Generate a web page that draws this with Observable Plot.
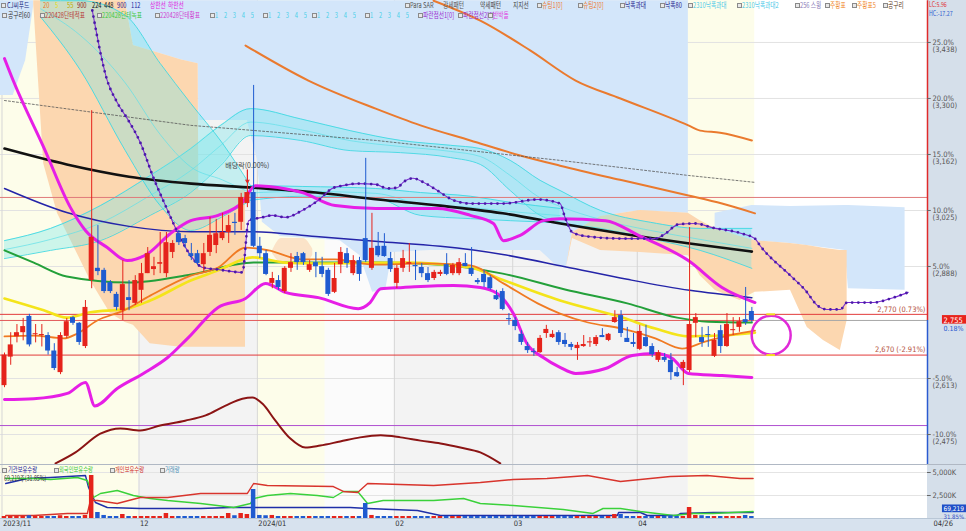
<!DOCTYPE html>
<html><head><meta charset="utf-8">
<script src="https://cdn.jsdelivr.net/npm/d3@7"></script>
<script src="https://cdn.jsdelivr.net/npm/@observablehq/plot@0.6"></script>
<style>
html,body{margin:0;padding:0;background:#fff;}
#wrap{position:relative;width:966px;height:531px;overflow:hidden;font-family:"Noto Sans CJK KR","Noto Sans",sans-serif;}
.abs{position:absolute;}
#axisMain{left:927px;top:0;width:39px;height:464px;background:#d5dfea;}
#axisSub{left:927px;top:465px;width:39px;height:53px;background:#d5dfea;}
#strip{left:0;top:518px;width:966px;height:13px;background:#d7e2ee;border-top:1px solid #b9c7d6;box-sizing:border-box;}
#sep{left:0;top:464px;width:966px;height:1px;background:#b0b8c4;}
#main{left:0;top:0;}
#sub{left:0;top:465px;}
.lg{position:absolute;font-size:7.6px;line-height:8px;white-space:pre;transform:scaleX(0.75);transform-origin:0 0;}
.lg.sp{word-spacing:6px;}
.lg.sm{font-size:7px;line-height:7px;}
.bx{position:absolute;width:3px;height:3px;border:1px solid #8a8a8a;background:#e8e8e8;}
</style></head><body>
<div id="wrap">
 <div id="axisMain" class="abs"></div>
 <div id="axisSub" class="abs"></div>
 <div id="strip" class="abs"></div>
 <div id="main" class="abs"></div>
 <div id="sep" class="abs"></div>
 <div id="sub" class="abs"></div>
 <div id="legend"></div>
</div>
<script>
// ---------------- DATA ----------------
const basePrice = 2750;
const open = [2595,2665,2715,2725,2765,2720,2718,2718,2680,2627,
2716,2762,2748,2691,2853,2883,2878,2848,2819,2779,
2811,2797,2829,2870,2880,2893,2870,2922,2968,2956,
2919,2919,2892,2922,2939,2956,2971,2996,2996,3042,
3069,2937,2919,2846,2853,2826,2883,2912,2919,2878,
2897,2887,2878,2824,2892,2919,2870,2902,2956,2883,
2937,2937,2907,2846,2883,2893,2890,2885,2870,2858,
2868,2892,2870,2870,2895,2883,2853,2868,2860,2816,
2826,2757,2755,2721,2691,2676,2676,2723,2713,2725,
2706,2696,2686,2691,2700,2696,2718,2706,2750,2767,
2711,2701,2684,2713,2691,2657,2664,2657,2627,2637,
2632,2748,2713,2718,2667,2730,2691,2730,2738,2757,2777];
const high = [2675,2725,2745,2760,2770,2745,2745,2725,2698,2725,
2760,2765,2750,2804,3270,2988,2883,2853,2824,2902,
2853,2865,2895,2934,2910,2971,2971,2951,2976,2964,
2944,2927,2944,3008,3003,3018,3013,3018,3067,3091,
3332,2959,2927,2873,2865,2887,2919,2922,2922,2902,
2922,2910,2883,2895,2934,2932,2914,2910,3153,3018,
2971,2968,2922,2890,2927,2944,2927,2895,2885,2878,
2878,2919,2895,2907,2919,2934,2858,2878,2865,2829,
2833,2772,2762,2730,2701,2686,2718,2743,2730,2730,
2723,2701,2701,2718,2713,2718,2735,2723,2779,2779,
2738,2723,2743,2743,2698,2681,2674,2674,2640,2657,
2983,2772,2738,2740,2723,2743,2772,2762,2762,2836,2787];
const low = [2590,2645,2700,2705,2690,2700,2690,2670,2632,2622,
2711,2743,2694,2686,2833,2865,2821,2821,2779,2755,
2779,2792,2797,2870,2865,2870,2860,2907,2939,2932,
2902,2890,2873,2912,2919,2951,2944,2964,2976,3032,
2934,2907,2865,2833,2829,2821,2873,2878,2890,2873,
2860,2860,2814,2821,2870,2883,2865,2851,2897,2878,
2910,2910,2873,2833,2873,2873,2853,2860,2848,2853,
2863,2865,2865,2865,2887,2863,2843,2836,2829,2804,
2779,2743,2730,2694,2674,2667,2674,2711,2711,2694,
2689,2681,2657,2689,2689,2691,2713,2703,2748,2713,
2701,2689,2681,2689,2664,2652,2652,2608,2615,2595,
2627,2713,2689,2689,2664,2674,2689,2718,2726,2743,2750];
const close = [2670,2695,2725,2740,2695,2722,2720,2680,2637,2718,
2752,2748,2701,2787,2959,2875,2826,2826,2787,2843,
2804,2853,2870,2919,2887,2897,2946,2944,2946,2944,
2912,2895,2919,2964,2968,2971,2988,2993,3057,3069,
2937,2919,2868,2858,2836,2883,2897,2897,2897,2892,
2887,2868,2819,2858,2922,2895,2902,2868,2902,2932,
2914,2912,2880,2883,2907,2897,2887,2870,2853,2873,
2873,2868,2890,2897,2887,2868,2848,2848,2833,2806,
2782,2755,2740,2701,2681,2674,2711,2733,2721,2701,
2696,2689,2694,2696,2702,2713,2713,2721,2762,2723,
2701,2696,2728,2691,2671,2676,2657,2627,2617,2652,
2745,2762,2701,2716,2706,2691,2745,2731,2752,2750,2755];
const volume = [217,217,217,217,300,217,217,217,217,300,
217,217,217,330,4674,652,330,217,217,435,
217,217,217,217,217,217,543,217,217,217,
217,217,217,217,217,217,543,300,543,435,
3152,330,300,330,217,217,217,217,217,217,
217,217,217,217,217,217,217,217,1631,330,
217,217,217,217,217,217,217,217,217,217,
217,217,217,217,217,217,217,217,217,217,
217,217,217,217,217,217,217,217,217,217,
217,217,217,217,217,217,217,217,435,435,
217,217,217,217,217,217,217,300,217,217,
1196,330,300,217,217,217,217,217,217,330,217];

// moving averages / indicator lines: [bar index, price]
const maLong = [[0,3177],[10,3138],[20,3108],[30,3091],[40,3081],[50,3069],[60,3052],[70,3037],[80,3018],[90,2991],[100,2966],[110,2944],[120,2924]];
const maNavy = [[0,3079],[10,3020],[20,2986],[30,2973],[40,2973],[50,2961],[60,2949],[70,2937],[80,2917],[90,2887],[100,2856],[110,2829],[120,2811]];
const maGreen = [[0,2927],[4.7,2897],[10,2863],[20,2848],[30,2868],[40,2897],[50,2897],[60,2897],[70,2892],[80,2870],[90,2831],[100,2797],[108,2762],[113,2752],[120,2750]];
const maYellow = [[0,2809],[6.3,2780],[10,2762],[13.8,2775],[19.7,2784],[23.4,2804],[29.9,2853],[34.3,2878],[39.8,2910],[45.1,2897],[50.4,2895],[64,2897],[74.8,2885],[79.1,2860],[89.2,2804],[99.2,2762],[104.5,2735],[109.8,2716],[115.2,2718],[120.5,2725]];
const maOrange = [[0,2716],[4.7,2718],[9.5,2711],[11.7,2723],[14.9,2755],[19.1,2779],[23.4,2816],[29.9,2865],[34.3,2885],[38.7,2934],[42.4,2927],[47.8,2905],[53.1,2905],[59.6,2892],[66.8,2895],[74.8,2890],[80.1,2846],[85.6,2797],[89.2,2772],[93.7,2750],[99.2,2735],[104.5,2711],[108.8,2686],[112.5,2703],[116.9,2720],[120.5,2730]];
const bandUpper = [[0,3398],[1.4,3344],[6.3,3180],[10.6,3032],[13,2976],[16.5,2934],[19.7,2902],[23,2919],[26.6,2968],[29.9,3000],[34.3,3013],[38.2,3045],[40.3,3086],[42.4,3084],[47.8,3069],[53.1,3037],[59.6,3030],[69.5,3030],[74.8,3013],[78.5,2993],[80.1,2951],[82.8,2964],[86.5,3000],[89.2,3005],[96.5,3000],[101.8,2964],[109.8,2902],[115.2,2836],[120.5,2799]];
const bandLower = [[0,2561],[4.7,2563],[10.1,2576],[13,2603],[14.5,2545],[18.1,2588],[22.3,2625],[26.2,2664],[29.4,2711],[34.3,2787],[38.7,2809],[41.9,2846],[45.1,2824],[50.4,2811],[56.8,2784],[58.7,2799],[60.4,2833],[64,2836],[72.1,2841],[76.4,2836],[79.1,2821],[81.7,2772],[83.9,2698],[86.5,2664],[89.2,2640],[91.7,2625],[96.5,2637],[100.8,2669],[104.5,2674],[107.2,2662],[109.8,2625],[115.2,2620],[120,2615]];
const sarLine = [[14.1,3516],[16.5,3344],[18.1,3290],[19.9,3246],[21.8,3192],[23.9,3106],[26.2,3025],[27.8,2971],[29.9,2914],[31.8,2885],[34.3,2880],[38.2,2873],[39.2,3000],[41.4,3008],[43,3013],[45.1,3008],[47.8,3025],[50.4,3050],[52.6,3079],[54.3,3086],[56.8,3091],[59.6,3089],[61.5,3079],[63.1,3081],[64,3094],[65.6,3104],[67.3,3094],[69.5,3074],[72.1,3050],[74.8,3042],[80.1,3042],[85.6,3052],[89.2,3042],[90,3008],[91.2,2971],[93.7,2961],[99.2,2956],[104.5,2956],[106.1,2968],[108.2,2991],[110.9,2993],[113.6,2983],[118.5,2968],[120.5,2956],[121.3,2939],[126.2,2865],[128.6,2829],[130.5,2792],[132.1,2782],[134.2,2782],[135.3,2799],[139.5,2799],[142.7,2811],[145.1,2824]];
const trendDashed = [[0,3295],[29.9,3234],[59.6,3197],[89.2,3148],[109.8,3111],[120.5,3094]];
const envTop = [[68.9,3540],[76.4,3491],[84.4,3418],[91.7,3344],[98.9,3300],[109.8,3234],[111.7,3221],[114.9,3216],[120,3197]];
const envMid = [[38.7,3430],[48.8,3344],[59.6,3275],[66.8,3234],[74.8,3197],[82.8,3160],[89.2,3135],[99.2,3099],[109.8,3062],[115.2,3042],[120.5,3018]];
const oscDarkRed = [[8.2,2404],[11.4,2431],[15.4,2477],[18.6,2490],[21.8,2485],[25,2497],[29,2509],[32.3,2522],[35.5,2546],[38.2,2563],[39.8,2566],[41.4,2551],[43.5,2509],[45.9,2465],[48.3,2443],[50.7,2448],[53.9,2458],[57.1,2468],[60.4,2473],[63.6,2468],[66.8,2460],[70,2453],[73.2,2443],[76.4,2431],[79.6,2404]];

// GMMA ribbons: [index, low edge, high edge]
const ribbonA = [[0,2907,2951],[7.4,2927,2981],[15.4,2951,3037],[23.4,3013,3111],[29.9,3069,3177],[34.7,3135,3234],[39.5,3209,3275],[47.5,3197,3250],[55.5,3172,3221],[63.6,3167,3197],[71.6,3155,3185],[76.4,3138,3177],[81.2,3074,3148],[86,3013,3099],[89.2,2996,3074],[95.7,2981,3025],[103.7,2956,2996],[111.7,2927,2981],[120,2883,2981]];
const ribbonB = [[39.5,3050,3086],[47.8,3060,3084],[59.6,3055,3079],[66.8,3013,3069],[74.8,3005,3060],[81.2,3000,3045],[89.2,2995,3030]];
const ribbonC = [[5.8,3500,3540],[12.2,3369,3540],[19.4,3172,3504],[25,3037,3386],[29.9,2976,3288],[35,3010,3190],[39.5,3050,3086]];

// Ichimoku cloud pieces: [index, low edge, high edge]
const cloudBlue0 = [[-0.64,3307,3540],[1.4,3307,3540],[3.4,3393,3540],[4.7,3528,3540]];
const cloudPeach1 = [[4.7,3530,3540],[6.3,3140,3540],[8.5,3018,3540],[11.7,2919,3540],[13.8,2853,3540],[17,2772,3540],[19.4,2750,3540],[20.7,2743,3430],[23.4,2698,3418],[28.3,2689,3395],[31.1,2689,3385],[31.2,2689,3074],[38.7,2689,3074]];
const cloudBlue1 = [[19.4,3540,3540],[20.7,3430,3540],[23.4,3418,3540],[28.3,3395,3540],[31.1,3385,3540],[31.2,3246,3540],[39,3246,3540],[39.8,3197,3540],[40.6,3150,3540],[41.4,2996,3540],[44.3,2961,3540],[53.9,2951,3540],[57.1,2914,3540],[59.1,2824,3540],[61.2,2829,3540],[62.3,2922,3540],[68.4,2927,3540],[86,2927,3540],[88.6,2890,3540],[90.2,2883,3540],[91.2,2971,3540],[95.7,3010,3540],[102.1,3025,3540],[109.8,3018,3540]];
const cloudPeach2 = [[90.2,2883,2883],[91.2,2956,2971],[95.7,2927,3010],[102.1,2922,3025],[109.8,2914,3018],[111.7,2865,3000],[114.1,2829,2981],[118.1,2804,2961],[120.5,2824,2951],[126.2,2829,2944],[128.9,2738,2939],[131.5,2706,2932],[134.2,2681,2927],[135.3,2755,2927]];
const cloudBlue2 = [[114.1,2981,3018],[120,2951,3037],[126.2,2944,3035],[135,2927,3037],[135.5,2833,3037],[144.6,2829,3032]];
const cloudPeach3 = [[43,2920,2925],[44.5,2895,2956],[48,2890,2956],[49.5,2915,2930]];

// horizontal levels
const levelPrices = [3057, 2770, 2670];
const levelLabels = [null, "2,770 (0.73%)", "2,670 (-2.91%)"];
const currentPrice = 2755;
const purpleLevel = 2497;

// right axis
const axisPct = [25, 20, 15, 10, 5, -5, -10];
const axisPriceLabel = ["3,438","3,300","3,162","3,025","2,888","2,613","2,475"];

// months
const monthIdx = [0, 22, 41, 63, 82, 102];
const monthLabel = ["2023/11","12","2024/01","02","03","04"];

// background periods [from idx, to idx, colour]
const periods = [[-0.64,21.6,"#fdfdea"],[21.6,40.6,"#f3f3f3"],[40.6,51.5,"#fdfdea"],[51.5,62.6,"#fbfbfb"],[62.6,109.8,"#f3f3f3"],[109.8,120.5,"#fdfdea"],[120.5,148.2,"#ffffff"]];

// lower panel holdings (K units of the panel axis)
const instHold = [[0.2,3804],[3.7,4348],[7.4,4457],[13,4674],[13.5,3370],[14.6,1739],[16.5,1196],[21.8,1087],[31.5,1087],[36.3,1196],[55.5,1196],[58.3,1087],[66.3,870],[70,326],[98.4,326],[98.6,652],[102.1,652],[103.2,326],[108,326],[108.5,544],[113.8,652],[120.2,652]];
const foreignHold = [[0.2,4348],[4.7,4348],[7.4,4239],[11.7,4457],[13.3,4131],[14.3,2283],[15.4,2718],[18.1,3044],[20.7,2500],[23.4,2174],[26.2,1957],[31.5,1631],[36.8,1196],[39.5,1631],[40,2174],[42.2,2500],[45.9,2718],[50.2,2500],[52.8,2283],[54.4,2935],[56.7,2935],[58.3,1631],[60.8,1957],[68.9,1957],[73.7,2174],[76.4,1631],[81.7,1413],[89.7,978],[94.5,544],[96.1,1087],[98.9,1087],[102.1,761],[107.4,326],[110.6,544],[113.8,544],[120.2,761]];
const indivHold = [[0.2,326],[4.7,326],[10.1,544],[13.3,544],[13.8,1957],[14.9,1957],[18.1,1631],[21.8,2283],[26.2,2283],[31.5,2718],[39,2718],[40,3804],[42.2,3587],[52.8,3478],[54.4,2935],[56.7,2826],[58.3,3804],[63.6,3696],[68.9,3587],[76.4,3913],[81.7,4239],[87.1,4348],[93.6,4674],[98.9,4022],[102.1,4239],[106.9,4565],[112.8,4674],[118.1,4348],[120.2,4348]];
const subTicks = [5000, 2500];
const subTickLabels = ["5,000K", "2,500K"];

// legends [x, text, colour]
const legendRow1 = [[7,"CJ씨푸드","#1c2a80"],[43,"20","#e8781e"],[55,"5","#e4dc20"],[67,"55","#c0ac00"],[77,"900","#8b1a1a"],[92,"224","#111"],[104,"448","#111"],[117,"900","#1c1c9c"],[131,"112","#1c1c9c"],[150,"상한선","#e020e0"],[168,"하한선","#e020e0"],
  [410,"Para SAR","#555"],[443,"강세패턴","#555"],[480,"약세패턴","#444"],[513,"지지선","#444"],[542,"슈팅1[0]","#f07828"],[583,"슈팅2[0]","#f07828"],[625,"낙폭과대","#23238c"],[665,"낙폭80","#23238c"],[693,"2310낙폭과대","#48c8e8"],[742,"2310낙폭과대2","#48c8e8"],[800,"256 스윙","#8a7ab8"],[830,"주황표","#f08a30"],[857,"주황표5","#f08a30"],[888,"공구리","#5a3a1a"]];
const legendRow1Boxes = [1,405,537,578,620,660,688,737,795,825,852,883];
const legendRow2 = [[8,"공구리60","#333"],[45,"220428단테적표","#b83a3a"],[102,"220428단테녹표","#3cc83c"],[160,"220428단테황표","#d040d0"],[215,"1 2 3 4 5","#48d0e8"],[268,"1 2 3 4 5","#48d0e8"],[317,"1 2 3 4 5","#48d0e8"],[370,"1 2 3 4 5","#48d0e8"],[423,"파란점선1[0]","#9a2ad0"],[463,"파란점선2[0]","#9a2ad0"],[493,"반박돌","#e040e0"]];
const legendRow2Boxes = [2,40,97,155,210,263,312,365,418,458,488];
const legendSub = [[8,"기관보유수량","#23239c"],[59,"외국인보유수량","#3cc83c"],[115,"개인보유수량","#d03030"],[165,"거래량","#4a90b8"]];
const legendSubBoxes = [2,54,110,160];

// ---------------- RENDER ----------------
const RED = "#e5231b", BLUE = "#1f5bd0";
const XDOM = [-0.64, 148.2];
const XMAX = XDOM[1];
const FONT = '"Noto Sans CJK KR","Noto Sans",sans-serif';
const NARROW = '"Liberation Sans Narrow","DejaVu Sans Condensed","Liberation Sans",sans-serif';
const candles = open.map((o, i) => ({i, o, h: high[i], l: low[i], c: close[i], v: volume[i], col: close[i] >= o ? RED : BLUE}));
const bands = periods.map(([a, b, f]) => ({a, b, f}));
const monthGrid = monthIdx.map(i => i - 0.4);
const axisData = axisPct.map((p, k) => ({y: basePrice * (1 + p / 100), t: `${p.toFixed(1)}%\n(${axisPriceLabel[k]})`}));
const P = d => d[0], V = d => d[1];
const L = d => d[1], H = d => d[2];

const mainPlot = Plot.plot({
  width: 966, height: 464, marginLeft: 0, marginRight: 39, marginTop: 0, marginBottom: 0,
  x: {domain: XDOM, axis: null},
  y: {domain: [2401.4, 3540.5], axis: null},
  color: {type: "identity"},
  style: {fontFamily: FONT, fontSize: "7px", background: "transparent", overflow: "visible"},
  marks: [
    Plot.rect(bands, {x1: "a", x2: "b", fill: "f"}),
    Plot.ruleY(axisData, {y: "y", stroke: "#e2e2e2"}),
    Plot.ruleX(monthGrid, {stroke: "#d6d6d6"}),
    // clouds
    Plot.areaY(cloudBlue0, {x: P, y1: L, y2: H, fill: "#d3e6fa"}),
    Plot.areaY(cloudBlue1, {x: P, y1: L, y2: H, fill: "#d3e6fa"}),
    Plot.areaY(cloudBlue2, {x: P, y1: L, y2: H, fill: "#d3e6fa"}),
    Plot.areaY(cloudPeach1, {x: P, y1: L, y2: H, fill: "#fcd7b0"}),
    Plot.areaY(cloudPeach2, {x: P, y1: L, y2: H, fill: "#fcd7b0"}),
    Plot.areaY(cloudPeach3, {x: P, y1: L, y2: H, fill: "#fbe3c8", curve: "monotone-x"}),
    // ribbons
    ...[ribbonA, ribbonB, ribbonC].flatMap(r => [
      Plot.areaY(r, {x: P, y1: L, y2: H, fill: "#71e4ea", fillOpacity: 0.35, curve: "monotone-x"}),
      Plot.line(r, {x: P, y: L, stroke: "#3fd8e2", strokeWidth: 0.9, curve: "monotone-x"}),
      Plot.line(r, {x: P, y: H, stroke: "#3fd8e2", strokeWidth: 0.9, curve: "monotone-x"}),
      Plot.line(r, {x: P, y: d => (d[1] + d[2]) / 2, stroke: "#5fdfe8", strokeWidth: 0.7, curve: "monotone-x"})
    ]),
    // horizontal levels
    Plot.ruleY([purpleLevel], {stroke: "#b050d0", strokeWidth: 1}),
    Plot.ruleY(levelPrices, {stroke: (d, k) => k === 0 ? "#e07a7a" : "#e23a3a", strokeWidth: 1}),
    Plot.ruleY([currentPrice], {x1: XDOM[0], x2: 120.5, stroke: "#e25a5a", strokeWidth: 1}),
    Plot.ruleY([currentPrice], {x1: 120.5, x2: XMAX, stroke: "#a8a8a8", strokeWidth: 1}),
    // envelopes and lines
    Plot.line(envTop, {x: P, y: V, stroke: "#ea7a2e", strokeWidth: 2, curve: "monotone-x"}),
    Plot.line(envMid, {x: P, y: V, stroke: "#ea7a2e", strokeWidth: 2, curve: "monotone-x"}),
    Plot.line(trendDashed, {x: P, y: V, stroke: "#555", strokeWidth: 0.8, strokeDasharray: "2,2"}),
    Plot.line(maLong, {x: P, y: V, stroke: "#111", strokeWidth: 2.6, curve: "monotone-x"}),
    Plot.line(maNavy, {x: P, y: V, stroke: "#2424a8", strokeWidth: 1.5, curve: "monotone-x"}),
    Plot.line(maGreen, {x: P, y: V, stroke: "#23a03a", strokeWidth: 2, curve: "monotone-x"}),
    Plot.line(maYellow, {x: P, y: V, stroke: "#f4e41a", strokeWidth: 2.6, curve: "monotone-x"}),
    Plot.line(maOrange, {x: P, y: V, stroke: "#f07a22", strokeWidth: 1.8, curve: "monotone-x"}),
    Plot.line(bandUpper, {x: P, y: V, stroke: "#e61ee6", strokeWidth: 3, curve: "monotone-x"}),
    Plot.line(bandLower, {x: P, y: V, stroke: "#e61ee6", strokeWidth: 3, curve: "monotone-x"}),
    Plot.line(oscDarkRed, {x: P, y: V, stroke: "#8b1414", strokeWidth: 2, curve: "monotone-x"}),
    Plot.line(sarLine, {x: P, y: V, stroke: "#7a2ad0", strokeWidth: 1.1, curve: "monotone-x"}),
    Plot.line(sarLine, {x: P, y: V, stroke: "#4a1aa8", strokeWidth: 2.8, strokeDasharray: "0,6.2", strokeLinecap: "round", curve: "monotone-x"}),
    // candles
    Plot.ruleX(candles, {x: "i", y1: "l", y2: "h", stroke: "col", strokeWidth: 1}),
    Plot.rect(candles, {x1: d => d.i - 0.4, x2: d => d.i + 0.4, y1: "o", y2: d => Math.abs(d.c - d.o) < 2.5 ? d.o + 2.5 : d.c, fill: "col"}),
    // projection circle
    Plot.dot([[123.1, 2719]], {x: P, y: V, r: 19.5, stroke: "#e02ad8", strokeWidth: 2.5, fill: "none"}),
    Plot.ruleY([2770, 2670], {x1: 122.4, x2: 123.8, stroke: "#f2e21e", strokeWidth: 2}),
    // level labels
    Plot.text(levelPrices.map((p, k) => ({p, t: levelLabels[k]})).filter(d => d.t), {x: XMAX, y: "p", text: "t", dx: -2, dy: -5, textAnchor: "end", fill: "#b4503c", fontSize: 7.5, fontFamily: NARROW}),
    // ex-dividend note
    Plot.text([[39, 3135]], {x: P, y: V, text: ["배당락(0.00%)"], fill: "#444", fontSize: 7}),
    Plot.arrow([[39, 3125, 39, 3093]], {x1: d => d[0], y1: d => d[1], x2: d => d[2], y2: d => d[3], stroke: "#e02020", strokeWidth: 1.2, headLength: 4}),
    // right axis
    Plot.ruleX([XMAX], {y1: currentPrice, y2: 3540, stroke: "#e02a2a", strokeWidth: 1.5}),
    Plot.ruleX([XMAX], {y1: 2401.4, y2: currentPrice, stroke: "#2a5ad0", strokeWidth: 1.5}),
    Plot.ruleY(axisData, {y: "y", x1: XMAX, x2: XMAX + 0.6, stroke: "#666"}),
    Plot.text(axisData, {x: XMAX, y: "y", text: "t", dx: 5, dy: -3, textAnchor: "start", lineAnchor: "top", lineHeight: 1.0, fill: "#555", fontSize: 7.5, fontFamily: NARROW}),
    Plot.rect([[currentPrice]], {x1: 150.6, x2: 154.6, y1: d => d[0] - 9, y2: d => d[0] + 12, fill: "#e8231b"}),
    Plot.text([[currentPrice]], {x: XMAX, y: d => d[0], text: () => "2,755", dx: 16, textAnchor: "start", fill: "#fff", fontSize: 7.5, fontFamily: NARROW}),
    Plot.text([[currentPrice]], {x: XMAX, y: d => d[0], text: () => "0.18%", dx: 16, dy: 8, textAnchor: "start", fill: "#2a5ad0", fontSize: 7, fontFamily: NARROW})
  ]
});
document.getElementById("main").appendChild(mainPlot);

const subPlot = Plot.plot({
  width: 966, height: 66, marginLeft: 0, marginRight: 39, marginTop: 0, marginBottom: 13,
  x: {domain: XDOM, axis: null},
  y: {domain: [0, 5761], axis: null},
  color: {type: "identity"},
  style: {fontFamily: FONT, fontSize: "7px", background: "transparent", overflow: "visible"},
  marks: [
    Plot.rect(bands.filter(b => b.f !== "#ffffff"), {x1: "a", x2: "b", y1: 0, y2: 5761, fill: "f"}),
    Plot.ruleX(monthGrid, {y1: 0, y2: 5761, stroke: "#d6d6d6"}),
    Plot.ruleY(subTicks, {x1: XDOM[0], x2: XMAX, stroke: "#e4e4e4"}),
    Plot.line(instHold, {x: P, y: V, stroke: "#1f2fa8", strokeWidth: 1.4}),
    Plot.line(foreignHold, {x: P, y: V, stroke: "#3ad13a", strokeWidth: 1.4}),
    Plot.line(indivHold, {x: P, y: V, stroke: "#d8342c", strokeWidth: 1.4}),
    Plot.rect(candles, {x1: d => d.i - 0.36, x2: d => d.i + 0.36, y1: 0, y2: "v", fill: "col"}),
    Plot.ruleY(subTicks, {x1: XMAX, x2: XMAX + 0.6, stroke: "#666"}),
    Plot.text(subTicks, {x: XMAX, y: d => d, text: (d, k) => subTickLabels[k], dx: 5, textAnchor: "start", fill: "#555", fontSize: 7.5, fontFamily: NARROW}),
    Plot.rect([[1033]], {x1: 150.6, x2: 154.6, y1: 630, y2: 1470, fill: "#1f4fc8"}),
    Plot.text([[1033]], {x: XMAX, y: () => 1080, text: () => "69,219", dx: 16, textAnchor: "start", fill: "#fff", fontSize: 6.5, fontFamily: NARROW}),
    Plot.text([[210]], {x: XMAX, y: () => 190, text: () => "31.85%", dx: 16, textAnchor: "start", fill: "#3050c8", fontSize: 6, fontFamily: NARROW}),
    Plot.text(monthIdx, {x: d => d - 0.4, text: (d, k) => monthLabel[k], frameAnchor: "bottom", dy: 7, dx: 1, textAnchor: "start", fill: "#333", fontSize: 7.5, fontFamily: NARROW}),
    Plot.text(["04/26"], {x: () => XMAX, text: d => d, frameAnchor: "bottom", dy: 7, dx: 6, textAnchor: "start", fill: "#333", fontSize: 7.5, fontFamily: NARROW})
  ]
});
document.getElementById("sub").appendChild(subPlot);

// legends (HTML overlays)
const lg = document.getElementById("legend");
function addText(x, y, t, c, cls){ const s = document.createElement("div"); s.className = "lg" + (cls ? " " + cls : ""); s.style.left = x + "px"; s.style.top = y + "px"; s.style.color = c; s.textContent = t; lg.appendChild(s); }
function addBox(x, y){ const b = document.createElement("div"); b.className = "bx"; b.style.left = x + "px"; b.style.top = y + "px"; lg.appendChild(b); }
legendRow1.forEach(([x, t, c]) => addText(x, 1, t, c));
legendRow1Boxes.forEach(x => addBox(x, 3));
legendRow2.forEach(([x, t, c]) => addText(x, 11, t, c, t.startsWith("1 ") ? "sp" : ""));
legendRow2Boxes.forEach(x => addBox(x, 13));
legendSub.forEach(([x, t, c]) => addText(x, 466, t, c, "sm"));
legendSubBoxes.forEach(x => addBox(x, 468));
addText(4, 474.5, "69,219주(31.85%)", "#333", "sm");
addText(929, 1, "LC:5.96", "#e03030", "sm");
addText(929, 10, "HC:-17.27", "#3060d0", "sm");
</script>
</body></html>
